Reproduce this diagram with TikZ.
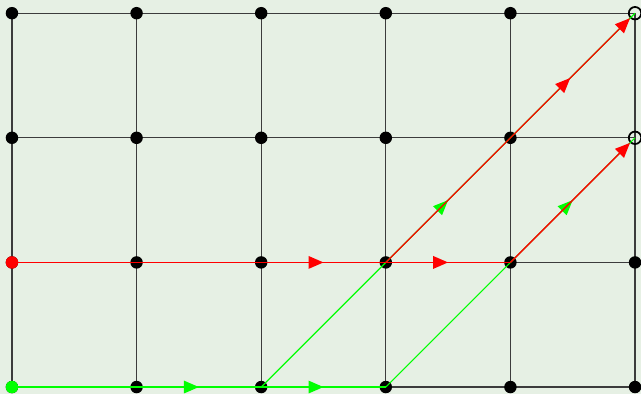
\documentclass[tikz,border=0pt]{standalone}
\usetikzlibrary{arrows.meta,decorations.markings}
\definecolor{bg}{RGB}{230,240,228}
\definecolor{gridc}{RGB}{60,60,60}
\definecolor{lime}{RGB}{0,255,0}
\tikzset{
  gridline/.style={draw=gridc,line width=0.3pt},
  dot/.style={circle,fill=black,inner sep=0pt,minimum size=0.1cm},
  opendot/.style={circle,draw=black,line width=0.4pt,fill=none,inner sep=0pt,minimum size=0.1cm},
  gpath/.style={draw=lime,line width=0.25pt},
  ghpath/.style={draw=lime,line width=0.35pt},
  rpath/.style={draw=red,line width=0.3pt,xshift=-0.35pt,yshift=0.35pt},
  rhpath/.style={draw=red,line width=0.4pt,yshift=0.3pt},
  midarrow/.style={postaction={decorate},decoration={markings,mark=at position 0.5 with {\arrow{Triangle[length=0.12cm,width=0.1cm]}}}},
  endarrow/.style={-{Triangle[length=0.12cm,width=0.1cm]}}
}
\begin{document}
\begin{tikzpicture}
\fill[bg] (-0.096,-0.056) rectangle (5.048,3.106);
\useasboundingbox (-0.096,-0.056) rectangle (5.048,3.106);
\foreach \i in {0,...,5}{\foreach \j in {0,...,3}{\coordinate (c\i\j) at (\i,\j);}}
% grid
\foreach \j in {0,...,3}{\draw[gridline] (c0\j) -- (c5\j);}
\foreach \i in {0,...,5}{\draw[gridline] (c\i0) -- (c\i3);}
% dots
\foreach \i in {0,...,5}{\foreach \j in {0,...,3}{
  \ifnum\i=5 \ifnum\j>1 \else \node[dot] (d\i\j) at (c\i\j) {};\fi
  \else \node[dot] (d\i\j) at (c\i\j) {};\fi}}
\node[opendot] (d52) at (c52) {};
\node[opendot] (d53) at (c53) {};
\node[dot,fill=red] (r01) at (c01) {};
\node[dot,fill=lime] (g00) at (c00) {};
% green paths
\draw[ghpath] (c00) -- (c10);
\draw[ghpath,midarrow,color=lime] (c10) -- (c20);
\draw[ghpath,midarrow,color=lime] (c20) -- (c30);
\draw[gpath] (c20) -- (c31);
\draw[gpath,midarrow,color=lime] (c31) -- (c42);
\draw[gpath] (c42) -- (c53);
\draw[gpath] (c30) -- (c41);
\draw[gpath,midarrow,color=lime] (c41) -- (c52);
% red paths
\draw[rhpath] (c01) -- (c21);
\draw[rhpath,midarrow,color=red] (c21) -- (c31);
\draw[rhpath,midarrow,color=red] (c31) -- (c41);
\draw[rpath] (c31) -- (c42);
\draw[rpath,midarrow,endarrow,color=red] (c42) -- (d53);
\draw[rpath,endarrow,color=red] (c41) -- (d52);
\end{tikzpicture}
\end{document}
